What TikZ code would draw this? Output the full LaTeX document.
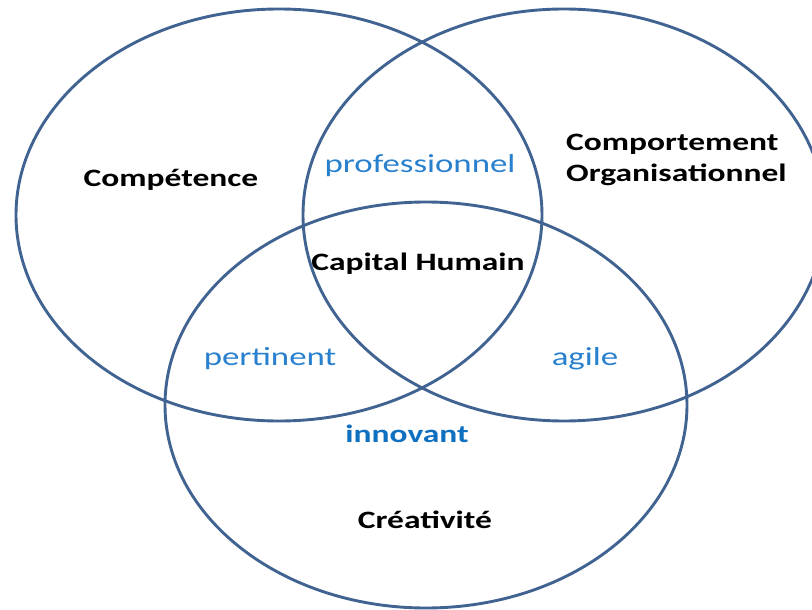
\documentclass[tikz,border=0pt]{standalone}
\usepackage{fontspec}
\usepackage{graphicx}
\setmainfont{Carlito}
\definecolor{ringblue}{RGB}{64,99,145}
\definecolor{softblue}{RGB}{40,128,206}
\definecolor{deepblue}{RGB}{16,112,192}
\newcommand{\widetext}[1]{\scalebox{1.34}[1]{#1}}
\tikzset{
  ring/.style={draw=ringblue, line width=2.9pt},
  termlabel/.style={anchor=base, inner sep=0pt, font=\fontsize{25}{28}\selectfont\bfseries, text=black},
  qualitylabel/.style={anchor=base, inner sep=0pt, font=\fontsize{26}{29}\selectfont, text=softblue},
  keylabel/.style={anchor=base, inner sep=0pt, font=\fontsize{25}{28}\selectfont\bfseries, text=deepblue}
}
\begin{document}
\begin{tikzpicture}[x=1pt, y=-1pt]
  \useasboundingbox (0,0) rectangle (812,610);
  \begin{scope}
    \clip (0,0) rectangle (812,610);
    % three overlapping domains
    \draw[ring] (279,215) ellipse [x radius=263, y radius=206];
    \draw[ring] (564,215) ellipse [x radius=261, y radius=206];
    \draw[ring] (426,405) ellipse [x radius=261, y radius=203];
  \end{scope}
  % domain names
  \node[termlabel] (competence) at (171,186) {\widetext{Compétence}};
  \node[termlabel, anchor=base west] (comportement) at (566,150) {\widetext{Comportement}};
  \node[termlabel, anchor=base west] (organisationnel) at (566,181) {\widetext{Organisationnel}};
  \node[termlabel] (creativite) at (425,528) {\widetext{Créativité}};
  \node[termlabel] (capital) at (418,270) {\widetext{Capital Humain}};
  % qualities at the overlaps
  \node[qualitylabel] (professionnel) at (420,172) {\widetext{professionnel}};
  \node[qualitylabel] (pertinent) at (270,365) {\widetext{pertinent}};
  \node[qualitylabel] (agile) at (585,365) {\widetext{agile}};
  \node[keylabel] (innovant) at (407,442) {\widetext{innovant}};
\end{tikzpicture}
\end{document}
